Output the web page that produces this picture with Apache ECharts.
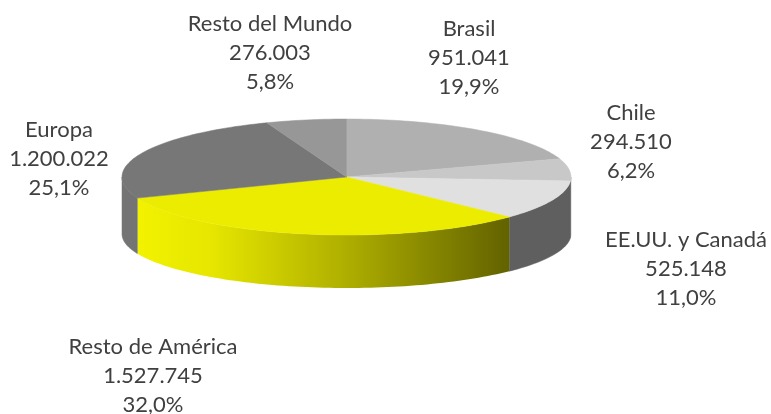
<!DOCTYPE html>
<html><head><meta charset="utf-8">
<script src="https://cdn.jsdelivr.net/npm/echarts@6/dist/echarts.min.js"></script>
<style>html,body{margin:0;padding:0;background:#fff}#c{width:771px;height:414px}</style>
</head><body><div id="c"></div>
<script>
// ---- data ----
const categories = ['Brasil', 'Chile', 'EE.UU. y Canadá', 'Resto de América', 'Europa', 'Resto del Mundo'];
const values = [951041, 294510, 525148, 1527745, 1200022, 276003];

// ---- styling / layout (not data) ----
const topColors = ['#b0b0b0', '#c8c8c8', '#e0e0e0', '#ecec00', '#777777', '#979797'];
const sideColors = ['#8a8a8a', '#9c9c9c', '#5f5f5f', null, '#747474', '#7a7a7a'];
const labelCenters = [[469, 58], [631, 142], [686, 269], [153, 376], [59, 159], [270, 53]];
const PIE = { cx: 346.5, cy: 177, a: 224.5, b: 58, depth: 57, bottomB: 54 };
const FONT = '22px Lato';
const TEXT_COLOR = '#404040';
const LINE_H = 29;

const total = values.reduce((s, v) => s + v, 0);
const startAngles = [];
(function () {
  let acc = -90;
  values.forEach(v => { startAngles.push(acc); acc += v / total * 360; });
})();

function fmtInt(n) {
  return String(n).replace(/\B(?=(\d{3})+(?!\d))/g, '.');
}
function fmtPct(v) {
  return (v / total * 100).toFixed(1).replace('.', ',') + '%';
}
function topPt(deg) {
  const r = deg * Math.PI / 180;
  return [PIE.cx + PIE.a * Math.cos(r), PIE.cy + PIE.b * Math.sin(r)];
}
function botPt(deg) {
  const r = deg * Math.PI / 180;
  return [PIE.cx + PIE.a * Math.cos(r), PIE.cy + PIE.depth + PIE.bottomB * Math.sin(r)];
}
function arc(fn, a0, a1) {
  const pts = [];
  const n = Math.max(2, Math.ceil(Math.abs(a1 - a0) / 1.5));
  for (let k = 0; k <= n; k++) pts.push(fn(a0 + (a1 - a0) * k / n));
  return pts;
}

function renderItem(params, api) {
  const i = params.dataIndex;
  const v = api.value(1);
  const a0 = startAngles[i];
  const a1 = a0 + v / total * 360;
  const children = [];

  const ranges = [[0, 180], [360, 540], [-360, -180]];
  ranges.forEach(([lo, hi]) => {
    const s = Math.max(a0, lo), e = Math.min(a1, hi);
    if (e > s) {
      const top = arc(topPt, s, e);
      const bot = arc(botPt, e, s);
      let fill;
      if (sideColors[i]) {
        fill = sideColors[i];
      } else {
        fill = new echarts.graphic.LinearGradient(0, 0, 1, 0, [
          { offset: 0, color: '#f2f200' },
          { offset: 0.2, color: '#e6e600' },
          { offset: 0.55, color: '#b0b000' },
          { offset: 1, color: '#626200' }
        ]);
      }
      children.push({
        type: 'polygon', z2: 1,
        shape: { points: top.concat(bot) },
        style: { fill: fill, stroke: sideColors[i] || null, lineWidth: sideColors[i] ? 0.5 : 0 }
      });
    }
  });

  const facePts = [[PIE.cx, PIE.cy]].concat(arc(topPt, a0, a1));
  children.push({
    type: 'polygon', z2: 2,
    shape: { points: facePts },
    style: { fill: topColors[i], stroke: topColors[i], lineWidth: 0.5 }
  });

  const lc = labelCenters[i];
  children.push({
    type: 'text', z2: 3,
    style: {
      text: categories[i] + '\n' + fmtInt(v) + '\n' + fmtPct(v),
      x: lc[0], y: lc[1],
      align: 'center', verticalAlign: 'middle',
      textAlign: 'center', textVerticalAlign: 'middle',
      font: FONT, fill: TEXT_COLOR, lineHeight: LINE_H
    }
  });

  return { type: 'group', children: children };
}

const chart = echarts.init(document.getElementById('c'), null, { renderer: 'canvas' });
chart.setOption({
  backgroundColor: '#ffffff',
  animation: false,
  series: [{
    type: 'custom',
    coordinateSystem: 'none',
    renderItem: renderItem,
    data: values.map((v, i) => [i, v])
  }]
});
</script>
</body></html>
